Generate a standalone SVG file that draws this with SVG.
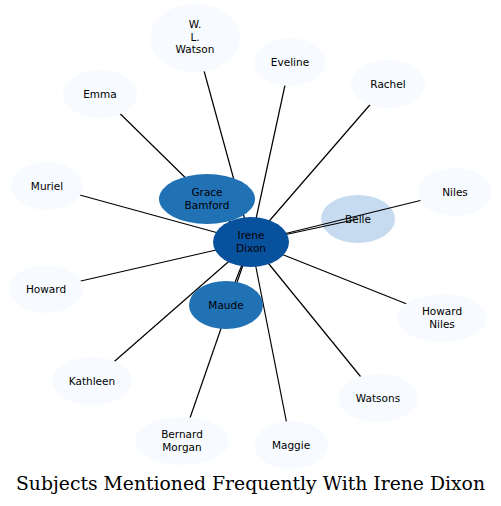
<svg xmlns="http://www.w3.org/2000/svg" width="501" height="506" viewBox="0 0 501 506">
<style>
.e{stroke:#000;stroke-width:1.2;fill:none}
.lt{fill:#f7fbff}
.t{font-family:"DejaVu Sans",sans-serif;font-size:10.5px;fill:#000;text-anchor:middle}
.title{font-family:"DejaVu Serif",serif;font-size:18.8px;fill:#000;text-anchor:middle}
</style>
<rect width="501" height="506" fill="#fff"/>
<g id="node-belle"><ellipse cx="358" cy="219" rx="37" ry="24" fill="#c6dbef"/><text class="t" x="358" y="223">Belle</text></g>
<g id="edges">
<line class="e" x1="251" y1="242" x2="195" y2="38"/>
<line class="e" x1="251" y1="242" x2="290" y2="62"/>
<line class="e" x1="251" y1="242" x2="388" y2="84"/>
<line class="e" x1="251" y1="242" x2="100" y2="94"/>
<line class="e" x1="251" y1="242" x2="207" y2="199"/>
<line class="e" x1="251" y1="242" x2="358" y2="219"/>
<line class="e" x1="251" y1="242" x2="455" y2="192"/>
<line class="e" x1="251" y1="242" x2="47" y2="186"/>
<line class="e" x1="251" y1="242" x2="46" y2="289"/>
<line class="e" x1="251" y1="242" x2="442" y2="318"/>
<line class="e" x1="251" y1="242" x2="226" y2="305"/>
<line class="e" x1="251" y1="242" x2="92" y2="381"/>
<line class="e" x1="251" y1="242" x2="378" y2="398"/>
<line class="e" x1="251" y1="242" x2="182" y2="441"/>
<line class="e" x1="251" y1="242" x2="291" y2="445"/>
</g>
<g id="node-watson"><ellipse class="lt" cx="195" cy="38" rx="45" ry="34"/><text class="t" x="195" y="28">W.</text><text class="t" x="195" y="40.5">L.</text><text class="t" x="195" y="53">Watson</text></g>
<g id="node-eveline"><ellipse class="lt" cx="290" cy="62" rx="36" ry="24"/><text class="t" x="290" y="66">Eveline</text></g>
<g id="node-rachel"><ellipse class="lt" cx="388" cy="84" rx="37" ry="24"/><text class="t" x="388" y="88">Rachel</text></g>
<g id="node-emma"><ellipse class="lt" cx="100" cy="94" rx="37" ry="24"/><text class="t" x="100" y="98">Emma</text></g>
<g id="node-niles"><ellipse class="lt" cx="455" cy="192" rx="37" ry="24"/><text class="t" x="455" y="196">Niles</text></g>
<g id="node-muriel"><ellipse class="lt" cx="47" cy="186" rx="36" ry="24"/><text class="t" x="47" y="190">Muriel</text></g>
<g id="node-howard"><ellipse class="lt" cx="46" cy="289" rx="37" ry="24"/><text class="t" x="46" y="293">Howard</text></g>
<g id="node-howard-niles"><ellipse class="lt" cx="442" cy="318" rx="45" ry="24"/><text class="t" x="442" y="315">Howard</text><text class="t" x="442" y="327.5">Niles</text></g>
<g id="node-kathleen"><ellipse class="lt" cx="92" cy="381" rx="40" ry="24"/><text class="t" x="92" y="385">Kathleen</text></g>
<g id="node-watsons"><ellipse class="lt" cx="378" cy="398" rx="40" ry="24"/><text class="t" x="378" y="402">Watsons</text></g>
<g id="node-bernard"><ellipse class="lt" cx="182" cy="441" rx="47" ry="24"/><text class="t" x="182" y="438">Bernard</text><text class="t" x="182" y="450.5">Morgan</text></g>
<g id="node-maggie"><ellipse class="lt" cx="291" cy="445" rx="37" ry="24"/><text class="t" x="291" y="449">Maggie</text></g>
<g id="node-grace"><ellipse cx="207" cy="199" rx="48" ry="25" fill="#2171b5"/><text class="t" x="207" y="196">Grace</text><text class="t" x="207" y="208.5">Bamford</text></g>
<g id="node-maude"><ellipse cx="226" cy="305" rx="37" ry="24" fill="#2171b5"/><text class="t" x="226" y="309">Maude</text></g>
<g id="node-irene"><ellipse cx="251" cy="242" rx="38" ry="25" fill="#08519c"/><text class="t" x="251" y="239">Irene</text><text class="t" x="251" y="251.5">Dixon</text></g>
<text class="title" x="250.5" y="490">Subjects Mentioned Frequently With Irene Dixon</text>
</svg>
